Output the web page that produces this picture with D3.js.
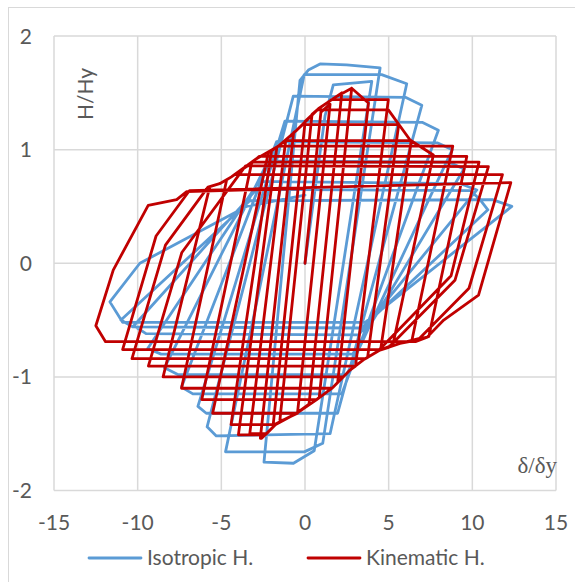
<!DOCTYPE html>
<html><head><meta charset="utf-8">
<script src="https://cdn.jsdelivr.net/npm/d3@7/dist/d3.min.js"></script>
<style>body{margin:0;background:#fff}</style>
</head><body>
<svg id="c" width="575" height="582"></svg>
<script>
const xTicks = [-15,-10,-5,0,5,10,15];
const yTicks = [-2,-1,0,1,2];
const seriesNames = ["Isotropic H.", "Kinematic H."];
const seriesColors = ["#5B9BD5", "#C00000"];

// Isotropic hardening: displacement / force path
const isoPts = [
 [0,0],[1.2,1.3],[1.69,1.57],[3.99,1.60],
 [0.55,-1.65],[-0.69,-1.76],[-2.45,-1.75],
 [-0.3,1.61],[0.2,1.70],[0.9,1.754],[2.49,1.745],[4.49,1.72],
 [1.06,-1.585],[-0.04,-1.66],[-4.75,-1.66],
 [-0.05,1.66],[4.58,1.66],[6.08,1.58],
 [1.5,-1.5],[-5.3,-1.52],[-5.85,-1.44],
 [-0.7,1.47],[6.0,1.46],[6.98,1.39],
 [1.95,-1.32],[-5.9,-1.32],[-6.4,-1.26],
 [-1.2,1.25],[7.0,1.24],[7.97,1.17],
 [2.2,-1.15],[-6.7,-1.15],[-7.38,-1.09],
 [-1.7,1.07],[7.9,1.06],[8.8,1.0],
 [2.5,-0.98],[-7.6,-0.98],[-8.4,-0.92],
 [-2.2,0.9],[8.6,0.89],[9.5,0.83],
 [2.85,-0.8],[-8.6,-0.8],[-9.4,-0.75],
 [-2.75,0.72],[9.3,0.70],[10.27,0.645],
 [3.2,-0.63],[-9.5,-0.62],[-10.23,-0.55],
 [-2.9,0.65],[9.9,0.64],[10.47,0.557],[10.93,0.47],
 [3.4,-0.57],[-10.3,-0.56],[-11.0,-0.5],
 [-3.3,0.55],[11.2,0.56],[12.36,0.50],
 [3.6,-0.52],[-10.9,-0.52],[-11.66,-0.34],
 [-9.87,0.0],[-3.5,0.5],[0,0.6]
];

// Kinematic hardening path
const kinPts = [
 [0,0],[0.95,1.33],[1.5,1.40],
 [-0.45,-1.32],[-1.3,-1.38],[-1.5,-1.38],
 [0.42,1.31],[0.8,1.36],[1.8,1.46],[2.2,1.50],
 [0.24,-1.24],[-0.5,-1.32],[-1.7,-1.41],[-1.9,-1.42],
 [0.01,1.25],[0.8,1.36],[1.8,1.46],[2.79,1.54],
 [0.85,-1.18],[0.70,-1.20],[-0.5,-1.32],[-1.7,-1.41],[-2.59,-1.54],[-2.67,-1.54],
 [-0.68,1.15],[-0.5,1.17],[0.8,1.36],[1.8,1.46],[2.79,1.54],[3.79,1.41],
 [1.95,-1.05],[1.69,-1.09],[0.70,-1.20],[-0.5,-1.32],[-1.7,-1.41],[-2.3,-1.50],[-3.3,-1.50],
 [-1.15,1.085],[-0.5,1.17],[0.8,1.36],[1.6,1.44],[4.98,1.44],
 [3.02,-0.905],[2.69,-0.94],[1.69,-1.09],[0.70,-1.20],[-0.5,-1.32],[-1.7,-1.41],[-2.37,-1.51],[-3.98,-1.51],
 [-1.68,1.02],[-1.6,1.03],[-0.5,1.17],[-0.15,1.22],[5.6,1.22],
 [3.74,-0.83],[3.49,-0.85],[2.69,-0.94],[1.69,-1.09],[0.70,-1.20],[-0.5,-1.32],[-1.75,-1.42],[-4.42,-1.42],
 [-2.0,0.99],[-1.6,1.03],[-1.2,1.08],[6.35,1.08],
 [4.52,-0.76],[4.48,-0.764],[3.49,-0.85],[2.69,-0.94],[1.69,-1.09],[0.70,-1.20],[-0.5,-1.32],[-5.52,-1.32],
 [-2.18,0.98],[-1.6,1.03],[-0.5,1.17],[0.75,1.35],[4.98,1.35],[6.28,1.085],[7.67,0.953],
 [5.25,-0.72],[4.48,-0.764],[3.49,-0.85],[2.69,-0.94],[1.69,-1.09],[0.70,-1.20],[-6.17,-1.20],
 [-3.18,0.89],[-2.9,0.92],[-1.6,1.03],[8.83,1.03],
 [6.38,-0.685],[5.68,-0.705],[4.48,-0.764],[3.49,-0.85],[2.69,-0.94],[1.69,-1.09],[1.62,-1.10],[-7.38,-1.10],
 [-4.68,0.735],[-4.4,0.76],[-2.9,0.92],[-2.75,0.94],[9.67,0.94],
 [7.4,-0.645],[7.3,-0.65],[5.68,-0.705],[4.48,-0.764],[3.49,-0.85],[2.69,-0.94],[2.29,-1.0],[-8.48,-1.0],
 [-5.69,0.675],[-5.1,0.70],[-4.4,0.76],[-3.1,0.89],[10.4,0.89],
 [8.73,-0.11],[4.35,-0.775],[3.49,-0.85],[3.0,-0.905],[-9.36,-0.905],
 [-7.36,0.095],[-3.55,0.857],[10.96,0.85],
 [8.96,-0.15],[5.0,-0.74],[4.48,-0.764],[3.6,-0.84],[-10.34,-0.84],
 [-8.34,0.16],[-5.8,0.67],[-5.1,0.70],[-4.4,0.76],[-4.2,0.78],[11.8,0.78],
 [9.8,-0.22],[6.85,-0.66],[5.68,-0.705],[4.55,-0.76],[-10.9,-0.76],
 [-8.9,0.24],[-6.9,0.64],[12.3,0.71],
 [10.37,-0.28],[8.29,-0.5],[7.3,-0.65],[6.6,-0.69],[-11.92,-0.69],[-12.5,-0.55],
 [-11.46,-0.06],[-9.37,0.51],[-7.67,0.56],[-7.07,0.63],[0,0.66]
];

const svg = d3.select("#c");
const x = d3.scaleLinear().domain([-15,15]).range([54,556]);
const y = d3.scaleLinear().domain([-2,2]).range([490.5,36]);
const font = "Lato, 'Open Sans', sans-serif";
const txt = "#595959";

// chart border
svg.append("rect").attr("x",8.5).attr("y",7.5).attr("width",620).attr("height",620)
  .attr("fill","none").attr("stroke","#D9D9D9").attr("stroke-width",1);

// gridlines
svg.append("g").selectAll("line").data(xTicks).join("line")
  .attr("x1",d=>x(d)).attr("x2",d=>x(d)).attr("y1",y(2)).attr("y2",y(-2))
  .attr("stroke","#D9D9D9").attr("stroke-width",1.5);
svg.append("g").selectAll("line").data(yTicks).join("line")
  .attr("y1",d=>y(d)).attr("y2",d=>y(d)).attr("x1",x(-15)).attr("x2",x(15))
  .attr("stroke","#D9D9D9").attr("stroke-width",1.5);

// tick labels
svg.append("g").selectAll("text").data(xTicks).join("text")
  .attr("x",d=>x(d)).attr("y",530).attr("text-anchor","middle")
  .attr("font-family",font).attr("font-size",21).attr("fill",txt).text(d=>d);
svg.append("g").selectAll("text").data(yTicks).join("text")
  .attr("x",32).attr("y",d=>y(d)+7.5).attr("text-anchor","end")
  .attr("font-family",font).attr("font-size",21).attr("fill",txt).text(d=>d);

// series
const line = d3.line().x(d=>x(d[0])).y(d=>y(d[1]));
[isoPts, kinPts].forEach((pts,i)=>{
  svg.append("path").datum(pts).attr("d",line).attr("fill","none")
    .attr("stroke",seriesColors[i]).attr("stroke-width",2.8)
    .attr("stroke-linejoin","round").attr("stroke-linecap","round");
});

// axis titles
svg.append("text").attr("transform","translate(93,94) rotate(-90)")
  .attr("text-anchor","middle").attr("font-family",font).attr("font-size",21)
  .attr("fill",txt).text("H/Hy");
svg.append("text").attr("x",557).attr("y",473).attr("text-anchor","end")
  .attr("font-family","'Liberation Serif', 'DejaVu Serif', serif").attr("font-size",23)
  .attr("fill",txt).text("δ/δy");

// legend
const leg = [{x0:89,x1:141,tx:147},{x0:308,x1:360,tx:366}];
leg.forEach((l,i)=>{
  svg.append("line").attr("x1",l.x0).attr("x2",l.x1).attr("y1",558).attr("y2",558)
    .attr("stroke",seriesColors[i]).attr("stroke-width",2.8).attr("stroke-linecap","round");
  svg.append("text").attr("x",l.tx).attr("y",565).attr("font-family",font)
    .attr("font-size",21).attr("fill",txt).text(seriesNames[i]);
});
</script>
</body></html>
